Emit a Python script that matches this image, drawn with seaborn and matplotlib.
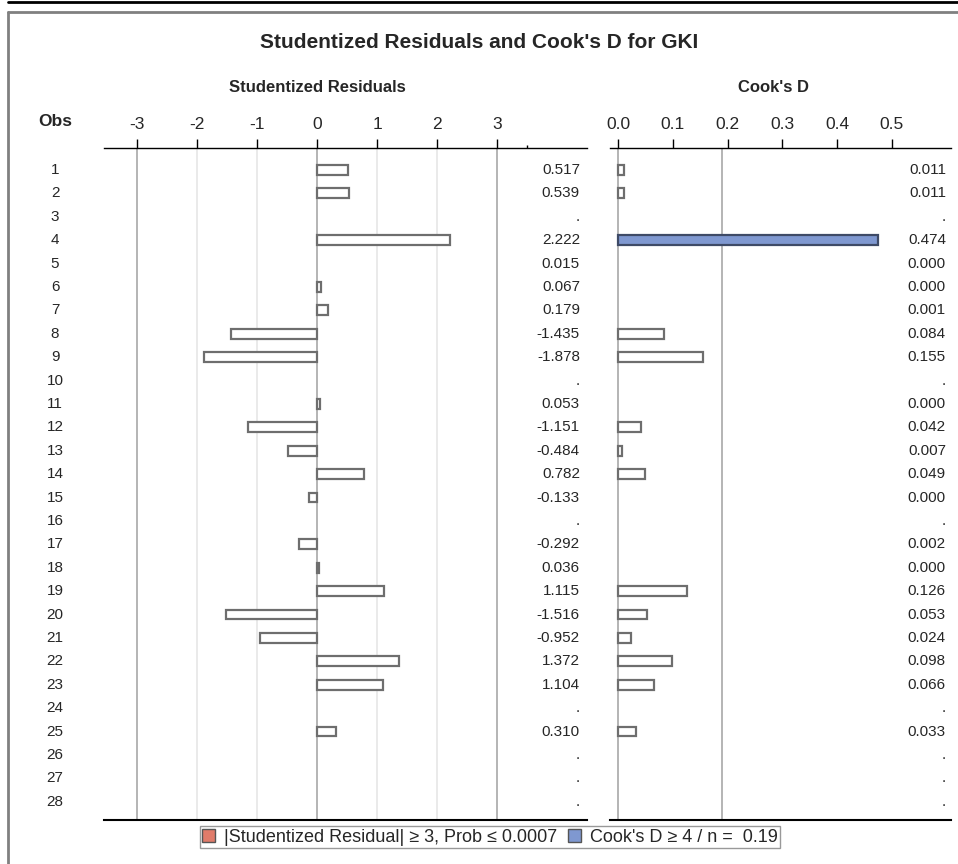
import numpy as np
import pandas as pd
import seaborn as sns
import matplotlib.pyplot as plt
from matplotlib.patches import Patch
from matplotlib.lines import Line2D
from matplotlib.transforms import blended_transform_factory

# Data
obs = list(range(1, 29))
resid = [0.517, 0.539, np.nan, 2.222, 0.015, 0.067, 0.179, -1.435, -1.878, np.nan,
         0.053, -1.151, -0.484, 0.782, -0.133, np.nan, -0.292, 0.036, 1.115, -1.516,
         -0.952, 1.372, 1.104, np.nan, 0.310, np.nan, np.nan, np.nan]
cooks = [0.011, 0.011, np.nan, 0.474, 0.000, 0.000, 0.001, 0.084, 0.155, np.nan,
         0.000, 0.042, 0.007, 0.049, 0.000, np.nan, 0.002, 0.000, 0.126, 0.053,
         0.024, 0.098, 0.066, np.nan, 0.033, np.nan, np.nan, np.nan]
resid_ticks = [-3, -2, -1, 0, 1, 2, 3]
cook_ticks = [0.0, 0.1, 0.2, 0.3, 0.4, 0.5]
cook_cut = 0.19
resid_cut = 3

df = pd.DataFrame({"Obs": obs, "resid": resid, "cooks": cooks})
df["rflag"] = np.where(df["resid"].abs() >= resid_cut, "flag", "ok")
df["cflag"] = np.where(df["cooks"] >= cook_cut, "flag", "ok")

sns.set_theme(style="white")
plt.rcParams['font.family'] = ['Liberation Sans', 'DejaVu Sans']
narrow = ['Liberation Sans Narrow', 'Liberation Sans', 'DejaVu Sans']

W, H = 958, 864
fig = plt.figure(figsize=(W / 100, H / 100), dpi=100)
fig.patch.set_facecolor("white")


def fx(px):
    return px / W


def fy(py):
    return 1 - py / H


top, bot = 148, 820
ax1 = fig.add_axes([fx(104), fy(bot), fx(587) - fx(104), fy(top) - fy(bot)])
ax2 = fig.add_axes([fx(610), fy(bot), fx(951) - fx(610), fy(top) - fy(bot)])

RED = "#E07B6A"
BLUE = "#7F98D0"
EDGE = "#6E6E6E"

# gridlines
for v in resid_ticks:
    dark = v in (-3, 0, 3)
    ax1.axvline(v, color="#A8A8A8" if dark else "#E6E6E6", lw=1.2, zorder=0)
ax2.axvline(0, color="#A8A8A8", lw=1.2, zorder=0)
ax2.axvline(cook_cut, color="#A8A8A8", lw=1.2, zorder=0)

d1 = df.dropna(subset=["resid"])
d1 = d1[d1["resid"].abs() >= 0.02]
sns.barplot(data=d1, x="resid", y="Obs", hue="rflag", orient="h", native_scale=True,
            palette={"ok": "white", "flag": RED}, hue_order=["ok", "flag"],
            dodge=False, width=0.42, saturation=1, errorbar=None, legend=False,
            edgecolor=EDGE, linewidth=1.6, ax=ax1, zorder=2)
d2 = df.dropna(subset=["cooks"])
d2 = d2[d2["cooks"] > 0.004]
sns.barplot(data=d2, x="cooks", y="Obs", hue="cflag", orient="h", native_scale=True,
            palette={"ok": "white", "flag": BLUE}, hue_order=["ok", "flag"],
            dodge=False, width=0.42, saturation=1, errorbar=None, legend=False,
            edgecolor=EDGE, linewidth=1.6, ax=ax2, zorder=2)
for p in ax2.patches:
    if p.get_facecolor()[2] < 0.9:
        p.set_edgecolor("#3E4A66")

ylim = (28.78, 0.06)
ax1.set_xlim(-3.55, 4.5)
ax2.set_xlim(-0.0146, 0.6077)
for ax in (ax1, ax2):
    ax.set_ylim(*ylim)
    ax.set_facecolor("none")
    ax.set_xlabel("")
    ax.set_ylabel("")
    ax.set_yticks([])
    ax.xaxis.tick_top()
    ax.tick_params(axis="x", which="major", direction="out", length=6.5, width=1,
                   color="black", pad=5, labelsize=12.5, bottom=False, top=True,
                   labelbottom=False, labeltop=True)
    for s in ("left", "right"):
        ax.spines[s].set_visible(False)
    ax.spines["top"].set_color("black")
    ax.spines["top"].set_linewidth(1)
    ax.spines["bottom"].set_color("black")
    ax.spines["bottom"].set_linewidth(1.5)

ax1.set_xticks(resid_ticks)
ax1.set_xticklabels([str(t) for t in resid_ticks])
ax1.set_xticks([3.5], minor=True)
ax1.tick_params(axis="x", which="minor", direction="out", length=2.5, width=1,
                color="black", top=True, bottom=False)
ax2.set_xticks(cook_ticks)
ax2.set_xticklabels([f"{t:.1f}" for t in cook_ticks])

# value columns
tr1 = ax1.get_yaxis_transform()
tr2 = ax2.get_yaxis_transform()
for o, r, c in zip(obs, resid, cooks):
    ax1.text(0.9855, o, "." if np.isnan(r) else f"{r:.3f}", transform=tr1,
             ha="right", va="center", fontsize=11)
    ax2.text(0.985, o, "." if np.isnan(c) else f"{c:.3f}", transform=tr2,
             ha="right", va="center", fontsize=11)

# observation labels
tro = blended_transform_factory(fig.transFigure, ax1.transData)
for o in obs:
    ax1.text(fx(55), o, str(o), transform=tro, ha="center", va="center", fontsize=11)

fig.text(fx(55), fy(122), "Obs", ha="center", va="center", fontsize=12.5,
         fontweight="bold", family=narrow)
fig.text(fx(479), fy(43), "Studentized Residuals and Cook's D for GKI", ha="center",
         va="center", fontsize=15, fontweight="bold", family=narrow)
fig.text(fx(317), fy(88), "Studentized Residuals", ha="center", va="center",
         fontsize=12, fontweight="bold", family=narrow)
fig.text(fx(773), fy(88), "Cook's D", ha="center", va="center",
         fontsize=12, fontweight="bold", family=narrow)

# outer frame
fig.add_artist(Line2D([fx(8), 1], [fy(2), fy(2)], color="black", lw=2))
fig.add_artist(Line2D([fx(8), 1], [fy(12), fy(12)], color="#808080", lw=2))
fig.add_artist(Line2D([fx(8), fx(8)], [fy(12), 0], color="#808080", lw=2))

handles = [Patch(facecolor=RED, edgecolor="#555555"),
           Patch(facecolor=BLUE, edgecolor="#555555")]
labels = ["|Studentized Residual| \u2265 3, Prob \u2264 0.0007",
          "Cook's D \u2265 4 / n =  0.19"]
leg = fig.legend(handles, labels, loc="center", bbox_to_anchor=(fx(490), fy(837)),
                 ncol=2, frameon=True, fancybox=False, edgecolor="#808080",
                 handlelength=0.7, handleheight=0.7, handletextpad=0.5,
                 columnspacing=0.6, borderpad=0.15, borderaxespad=0,
                 prop={"family": narrow, "size": 13})
leg.get_frame().set_linewidth(1)

fig.savefig("out.png", dpi=100)
